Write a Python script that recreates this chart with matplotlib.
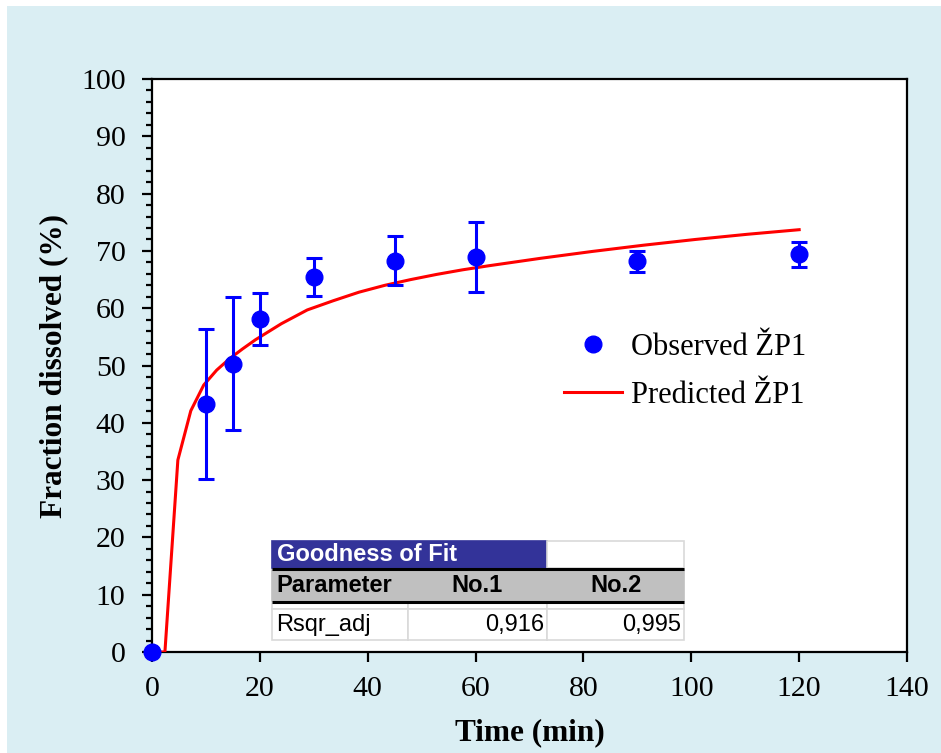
import matplotlib
matplotlib.use('Agg')
import matplotlib.pyplot as plt
import matplotlib.patches as patches
from matplotlib.ticker import MultipleLocator

# observed dissolution data
obs_time = [0, 10, 15, 20, 30, 45, 60, 90, 120]
obs_mean = [0, 43.3, 50.3, 58.1, 65.4, 68.3, 68.9, 68.2, 69.4]
obs_err = [0, 13.1, 11.6, 4.6, 3.3, 4.3, 6.1, 1.8, 2.2]

# predicted curve
pred_time = [0, 2.4, 4.8, 7.2, 9.6, 12, 14.4, 16.8, 19.2, 24, 28.8, 33.6,
             38.4, 43.2, 48, 52.8, 57.6, 62.4, 72, 81.6, 91.2, 100.8, 110.4, 120]
pred_val = [0, 0, 33.5, 42.1, 46.6, 49.2, 51.2, 52.9, 54.5, 57.3, 59.7, 61.3,
            62.8, 64.0, 65.0, 65.9, 66.7, 67.4, 68.7, 69.9, 71.0, 72.0, 72.9, 73.7]

# goodness of fit table
fit_cols = ['Parameter', 'No.1', 'No.2']
fit_rows = [['Rsqr_adj', '0,916', '0,995']]

serif = ['Liberation Serif', 'DejaVu Serif']
sans = ['Liberation Sans', 'DejaVu Sans']
plt.rcParams['font.family'] = serif

fig = plt.figure(figsize=(9.41, 7.53), dpi=100)
fig.patch.set_facecolor('white')
fig.patches.append(patches.Rectangle((7 / 941, 0), 1, 1 - 6 / 753, transform=fig.transFigure,
                                     facecolor='#DAEEF3', edgecolor='none', zorder=-10))

ax = fig.add_axes([0.1615, 0.1341, 0.8024, 0.761])
ax.set_facecolor('white')

ax.plot(pred_time, pred_val, color='red', lw=2.2, zorder=3)
ax.errorbar(obs_time, obs_mean, yerr=obs_err, fmt='none', ecolor='blue',
            elinewidth=2.2, capsize=5.5, capthick=2.2, zorder=4)
ax.plot(obs_time, obs_mean, 'o', color='blue', ms=12, zorder=4, clip_on=False)

ax.set_xlim(0, 140)
ax.set_ylim(0, 100)
ax.xaxis.set_major_locator(MultipleLocator(20))
ax.yaxis.set_major_locator(MultipleLocator(10))
ax.yaxis.set_minor_locator(MultipleLocator(2))
ax.tick_params(axis='both', which='major', direction='out', length=7, width=1.6,
               labelsize=21.5)
ax.tick_params(axis='x', which='major', pad=10)
ax.tick_params(axis='y', which='major', pad=12)
ax.tick_params(axis='y', which='minor', direction='out', length=4.5, width=1.6)
for s in ax.spines.values():
    s.set_linewidth(1.6)

ax.set_xlabel('Time (min)', fontsize=22.5, fontweight='bold', labelpad=12)
ax.set_ylabel('Fraction dissolved (%)', fontsize=22.5, fontweight='bold', labelpad=9.5)

obs_h, = ax.plot([], [], 'o', color='blue', ms=12)
pred_h, = ax.plot([], [], color='red', lw=2.2)
ax.legend([obs_h, pred_h], ['Observed ŽP1', 'Predicted ŽP1'], loc='center left',
          bbox_to_anchor=(0.509, 0.49), frameon=False, fontsize=22,
          handlelength=1.9, handletextpad=0.3, labelspacing=0.62)

# goodness of fit table, in axes fraction
xs = [0.159, 0.339, 0.523, 0.705]
y_title = (0.1466, 0.1937)
y_head = (0.089, 0.1431)
y_gap = (0.075, 0.0855)
y_row = (0.0209, 0.075)
grid = '#D9D9D9'

def cell(x0, x1, y0, y1, fc, ec=grid, lw=1.2):
    ax.add_patch(patches.Rectangle((x0, y0), x1 - x0, y1 - y0, transform=ax.transAxes,
                                   facecolor=fc, edgecolor=ec, lw=lw, zorder=5))

cell(xs[0], xs[2], *y_title, fc='#333399', ec='#333399')
cell(xs[2], xs[3], *y_title, fc='white')
cell(xs[0], xs[3], *y_head, fc='#C0C0C0', ec='#C0C0C0')
for i in range(3):
    cell(xs[i], xs[i + 1], *y_gap, fc='white')
    cell(xs[i], xs[i + 1], *y_row, fc='white')
for yy in (y_head[1] + 0.002, y_head[0] - 0.002):
    ax.plot([xs[0], xs[3]], [yy, yy], transform=ax.transAxes, color='black', lw=2.2,
            zorder=6, solid_capstyle='butt')

fs = 17
ax.text(xs[0] + 0.006, sum(y_title) / 2, 'Goodness of Fit', transform=ax.transAxes,
        color='white', fontweight='bold', fontsize=fs, family=sans, va='center', zorder=7)
ax.text(xs[0] + 0.006, sum(y_head) / 2, fit_cols[0], transform=ax.transAxes,
        fontweight='bold', fontsize=fs, family=sans, va='center', zorder=7)
for i in (1, 2):
    ax.text((xs[i] + xs[i + 1]) / 2, sum(y_head) / 2, fit_cols[i], transform=ax.transAxes,
            fontweight='bold', fontsize=fs, family=sans, va='center', ha='center', zorder=7)
row = fit_rows[0]
ax.text(xs[0] + 0.006, sum(y_row) / 2, row[0], transform=ax.transAxes,
        fontsize=fs, family=sans, va='center', zorder=7)
for i in (1, 2):
    ax.text(xs[i + 1] - 0.004, sum(y_row) / 2, row[i], transform=ax.transAxes,
            fontsize=fs, family=sans, va='center', ha='right', zorder=7)

fig.savefig('out.png', dpi=100)
